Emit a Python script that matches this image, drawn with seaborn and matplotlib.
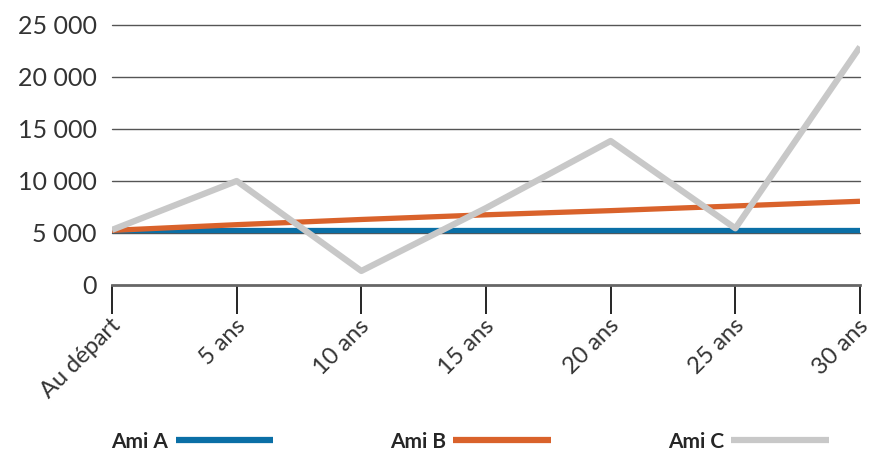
import pandas as pd, numpy as np
import matplotlib.pyplot as plt
import matplotlib as mpl
import seaborn as sns

BLUE, ORANGE, GREY = '#0A6FA6', '#D9622B', '#C8C8C8'

periods = ['Au départ', '5 ans', '10 ans', '15 ans', '20 ans', '25 ans', '30 ans']
ami_a = [5250, 5250, 5250, 5250, 5250, 5250, 5250]
ami_b = [5250, 5800, 6300, 6750, 7150, 7600, 8050]
ami_c = [5300, 10000, 1350, 7400, 13850, 5450, 22900]
series = ['Ami A', 'Ami B', 'Ami C']
y_ticks = [0, 5000, 10000, 15000, 20000, 25000]

sns.set_style('white')
mpl.rcParams['font.family'] = ['Lato', 'DejaVu Sans']

df = pd.DataFrame({
    'x': list(range(len(periods))) * 3,
    'value': ami_a + ami_b + ami_c,
    'ami': sum([[s] * len(periods) for s in series], []),
})

fig = plt.figure(figsize=(8.71, 4.53), dpi=100)
ax = fig.add_axes([112 / 871, 1 - 285 / 453, (860 - 112) / 871, 260 / 453])

for yv in y_ticks[1:]:
    ax.axhline(yv, color='#555555', lw=1, zorder=1, clip_on=False)

sns.lineplot(data=df, x='x', y='value', hue='ami', palette=[BLUE, ORANGE, GREY],
             linewidth=4, ax=ax, legend=False, zorder=3)
for ln, w in zip(ax.lines[-3:], [3.8, 3.8, 4.5]):
    ln.set_linewidth(w)
    ln.set_solid_capstyle('butt')

ax.set(xlim=(0, 6), ylim=(0, 25000), xlabel='', ylabel='')
ax.set_xticks(range(len(periods)))
ax.set_xticklabels(periods, rotation=45, ha='right', va='center', rotation_mode='anchor',
                   fontsize=17, color='#333333')
ax.set_yticks(y_ticks)
ax.set_yticklabels([f'{v:,}'.replace(',', ' ') for v in y_ticks], fontsize=18, color='#333333')
ax.tick_params(axis='x', bottom=True, length=21, width=1.2, color='black', pad=6,
               direction='out')
ax.tick_params(axis='y', length=0, pad=11)
shift = mpl.transforms.ScaledTranslation(0.05, 0, fig.dpi_scale_trans)
for lbl in ax.get_xticklabels():
    lbl.set_transform(lbl.get_transform() + shift)
for s in ['top', 'right', 'left']:
    ax.spines[s].set_visible(False)
ax.spines['bottom'].set_color('#666666')
ax.spines['bottom'].set_linewidth(2)

handles = [mpl.lines.Line2D([], [], color=c, lw=4.5, solid_capstyle='butt')
           for c in [BLUE, ORANGE, GREY]]
fig.legend(handles, series, loc='center', bbox_to_anchor=(0.54, 0.025), ncol=3,
           frameon=False, markerfirst=False, handlelength=4.7, handletextpad=0.35,
           columnspacing=5.6, prop={'weight': 'bold', 'size': 15})

plt.savefig('out.png', dpi=100)
